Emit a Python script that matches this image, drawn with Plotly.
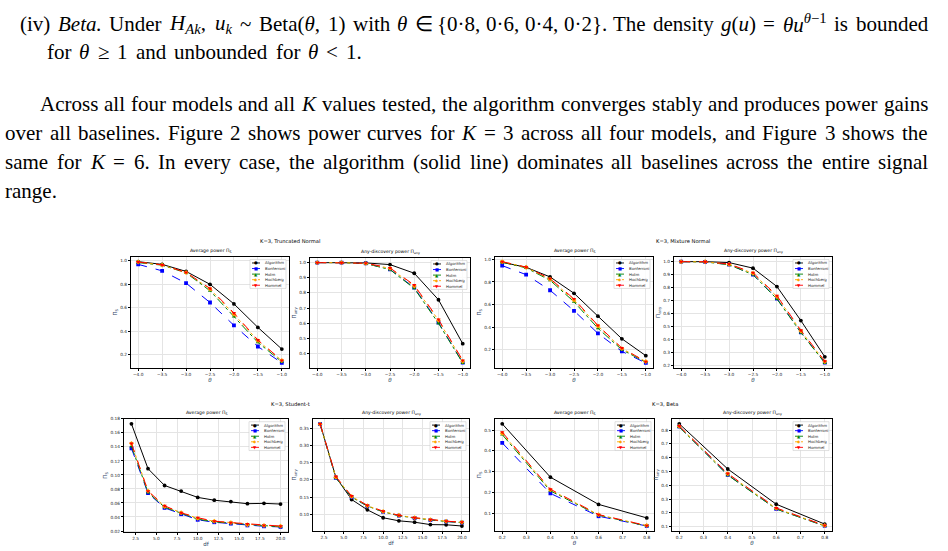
import re
import plotly.graph_objects as go

W, H = 948, 551

# ---------------- data ----------------
methods = ["Algorithm", "Bonferroni", "Holm", "Hochberg", "Hommel"]
colors = ["black", "blue", "green", "orange", "red"]
dashes = ["solid", "dash", "dashdot", "dot", "dash"]
symbols = ["circle", "square", "triangle-up", "diamond", "triangle-down"]
glyphs = ["●", "■", "▲", "◆", "▼"]

mu = [-4.0, -3.5, -3.0, -2.5, -2.0, -1.5, -1.0]
dfs = [2, 4, 6, 8, 10, 12, 14, 16, 18, 20]
theta = [0.2, 0.4, 0.6, 0.8]

# Truncated Normal
tn_avg = [
    [0.993, 0.970, 0.910, 0.800, 0.633, 0.433, 0.248],
    [0.970, 0.915, 0.810, 0.645, 0.450, 0.270, 0.130],
    [0.985, 0.963, 0.898, 0.745, 0.525, 0.305, 0.140],
    [0.990, 0.965, 0.900, 0.760, 0.545, 0.320, 0.150],
    [0.990, 0.966, 0.902, 0.765, 0.555, 0.325, 0.152],
]
tn_any = [
    [1.000, 1.000, 0.998, 0.987, 0.930, 0.755, 0.465],
    [1.000, 1.000, 0.995, 0.955, 0.835, 0.605, 0.340],
    [1.000, 1.000, 0.994, 0.954, 0.830, 0.600, 0.338],
    [1.000, 1.000, 0.995, 0.962, 0.845, 0.620, 0.350],
    [1.000, 1.000, 0.996, 0.965, 0.852, 0.625, 0.355],
]
# Mixture Normal
mn_avg = [
    [0.975, 0.930, 0.845, 0.700, 0.497, 0.297, 0.147],
    [0.945, 0.865, 0.727, 0.545, 0.345, 0.185, 0.083],
    [0.975, 0.925, 0.815, 0.625, 0.390, 0.200, 0.090],
    [0.980, 0.930, 0.825, 0.640, 0.410, 0.210, 0.095],
    [0.980, 0.932, 0.830, 0.650, 0.415, 0.215, 0.095],
]
mn_any = [
    [1.000, 1.000, 0.993, 0.950, 0.808, 0.545, 0.265],
    [1.000, 0.998, 0.978, 0.900, 0.715, 0.455, 0.220],
    [1.000, 0.998, 0.976, 0.900, 0.712, 0.452, 0.218],
    [1.000, 0.999, 0.980, 0.910, 0.730, 0.465, 0.228],
    [1.000, 0.999, 0.982, 0.915, 0.737, 0.470, 0.232],
]
# Student-t
st_avg = [
    [0.173, 0.109, 0.085, 0.077, 0.068, 0.064, 0.062, 0.059, 0.0595, 0.0585],
    [0.138, 0.074, 0.053, 0.044, 0.036, 0.0325, 0.0305, 0.028, 0.0267, 0.0258],
    [0.141, 0.075, 0.054, 0.045, 0.037, 0.033, 0.031, 0.029, 0.027, 0.026],
    [0.145, 0.077, 0.055, 0.046, 0.038, 0.034, 0.032, 0.029, 0.028, 0.027],
    [0.145, 0.077, 0.056, 0.046, 0.039, 0.034, 0.032, 0.030, 0.028, 0.027],
]
st_any = [
    [0.363, 0.208, 0.143, 0.113, 0.090, 0.081, 0.077, 0.070, 0.0695, 0.066],
    [0.362, 0.206, 0.150, 0.124, 0.107, 0.096, 0.089, 0.083, 0.079, 0.076],
    [0.362, 0.206, 0.150, 0.124, 0.107, 0.096, 0.089, 0.083, 0.079, 0.076],
    [0.362, 0.208, 0.152, 0.125, 0.108, 0.097, 0.090, 0.084, 0.080, 0.077],
    [0.363, 0.210, 0.153, 0.126, 0.109, 0.097, 0.090, 0.084, 0.080, 0.077],
]
# Beta
be_avg = [
    [0.530, 0.273, 0.142, 0.077],
    [0.438, 0.195, 0.085, 0.038],
    [0.478, 0.207, 0.090, 0.038],
    [0.485, 0.212, 0.092, 0.040],
    [0.490, 0.215, 0.093, 0.040],
]
be_any = [
    [0.846, 0.518, 0.262, 0.118],
    [0.825, 0.475, 0.228, 0.105],
    [0.823, 0.473, 0.227, 0.104],
    [0.828, 0.483, 0.232, 0.107],
    [0.830, 0.485, 0.235, 0.108],
]

mu_ticks = [-4.0, -3.5, -3.0, -2.5, -2.0, -1.5, -1.0]
df_ticks = [2.5, 5.0, 7.5, 10.0, 12.5, 15.0, 17.5, 20.0]
th_ticks = [0.2, 0.3, 0.4, 0.5, 0.6, 0.7, 0.8]

suptitles = ["K=3, Truncated Normal", "K=3, Mixture Normal", "K=3, Student-t", "K=3, Beta"]
avg_title = "Average power Π<sub>S</sub>"
any_title = "Any-discovery power Π<sub>any</sub>"

paragraph = [
    "(iv) <i>Beta.</i> Under <i>H<sub>Ak</sub></i>, <i>u<sub>k</sub></i> ~ Beta(<i>θ</i>, 1) with <i>θ</i> ∈ {0·8, 0·6, 0·4, 0·2}. The density <i>g</i>(<i>u</i>) = <i>θu</i><sup><i>θ</i>−1</sup> is bounded",
    "for <i>θ</i> ≥ 1 and unbounded for <i>θ</i> &lt; 1.",
    "Across all four models and all <i>K</i> values tested, the algorithm converges stably and produces power gains",
    "over all baselines. Figure 2 shows power curves for <i>K</i> = 3 across all four models, and Figure 3 shows the",
    "same for <i>K</i> = 6. In every case, the algorithm (solid line) dominates all baselines across the entire signal",
    "range.",
]
line_right = [928, 362, 928, 928, 928, None]

# ---------------- layout helpers ----------------
def fx(px):
    return px / W

def fy(py):
    return 1 - py / H

def fmt(v, d):
    return f"{v:.{d}f}".replace("-", "−")

# approximate Times advance widths (per 1000 em) for text layout
TW = {" ": 250, "(": 333, ")": 333, ",": 250, ".": 250, "-": 333, "~": 541, "=": 564, "{": 480, "}": 480,
      "·": 250, "∈": 667, "≥": 549, "−": 564, "θ": 500, "<": 564,
      "A": 722, "B": 667, "F": 556, "H": 722, "I": 333, "K": 722, "T": 611, "U": 722,
      "a": 444, "b": 500, "c": 444, "d": 500, "e": 444, "f": 333, "g": 500, "h": 500, "i": 278,
      "j": 278, "k": 500, "l": 278, "m": 778, "n": 500, "o": 500, "p": 500, "q": 500, "r": 333,
      "s": 389, "t": 278, "u": 500, "v": 500, "w": 722, "x": 500, "y": 500, "z": 444}

def text_width(html, size):
    w = 0.0
    scale = 1.0
    html = html.replace("&lt;", "<")
    for tok in re.split(r"(</?(?:i|sub|sup)>)", html):
        if tok in ("<sub>", "<sup>"):
            scale = 0.7
        elif tok in ("</sub>", "</sup>"):
            scale = 1.0
        elif tok in ("<i>", "</i>"):
            continue
        else:
            for ch in tok:
                w += TW.get(ch, 500) * scale
    return w * size / 1000.0

panels = [
    (mu, tn_avg, (131, 289, 256, 368), avg_title, "<i>θ</i>", "Π<sub>S</sub>", mu_ticks, 1, [0.2, 0.4, 0.6, 0.8, 1.0], 1),
    (mu, tn_any, (310, 470, 257, 368), any_title, "<i>θ</i>", "Π<sub>any</sub>", mu_ticks, 1, [0.4, 0.5, 0.6, 0.7, 0.8, 0.9, 1.0], 1),
    (mu, mn_avg, (495, 653, 256, 368), avg_title, "<i>θ</i>", "Π<sub>S</sub>", mu_ticks, 1, [0.2, 0.4, 0.6, 0.8, 1.0], 1),
    (mu, mn_any, (674, 832, 256, 368), any_title, "<i>θ</i>", "Π<sub>any</sub>", mu_ticks, 1, [0.2, 0.3, 0.4, 0.5, 0.6, 0.7, 0.8, 0.9, 1.0], 1),
    (dfs, st_avg, (124, 288, 419, 533), avg_title, "df", "Π<sub>S</sub>", df_ticks, 1, [0.02, 0.04, 0.06, 0.08, 0.10, 0.12, 0.14, 0.16, 0.18], 2),
    (dfs, st_any, (313, 469, 419, 532), any_title, "df", "Π<sub>any</sub>", df_ticks, 1, [0.05, 0.10, 0.15, 0.20, 0.25, 0.30, 0.35], 2),
    (theta, be_avg, (495, 654, 419, 532), avg_title, "<i>θ</i>", "Π<sub>S</sub>", th_ticks, 1, [0.1, 0.2, 0.3, 0.4, 0.5], 1),
    (theta, be_any, (672, 832, 419, 532), any_title, "<i>θ</i>", "Π<sub>any</sub>", th_ticks, 1, [0.1, 0.2, 0.3, 0.4, 0.5, 0.6, 0.7, 0.8], 1),
]

SANS = "DejaVu Sans"
fig = go.Figure()
shapes = []
annotations = []
layout = {}

for i, (xs, series, box, title, xlab, ylab, xt, xd, yt, yd) in enumerate(panels):
    n = i + 1
    sfx = "" if n == 1 else str(n)
    x0, x1, y0, y1 = box
    xmin, xmax = min(xs), max(xs)
    allv = [v for s in series for v in s]
    ymin, ymax = min(allv), max(allv)
    xpad = 0.05 * (xmax - xmin)
    ypad = 0.05 * (ymax - ymin)
    for k, s in enumerate(series):
        fig.add_trace(go.Scatter(
            x=xs, y=s, mode="lines+markers", name=methods[k], showlegend=False,
            xaxis="x" + sfx, yaxis="y" + sfx,
            line=dict(color=colors[k], width=1.0, dash=dashes[k]),
            marker=dict(symbol=symbols[k], size=3.8, color=colors[k]),
        ))
    common = dict(showline=True, mirror=True, linecolor="black", linewidth=1.3,
                  ticks="outside", ticklen=2, tickwidth=0.6, tickcolor="black",
                  tickfont=dict(size=4.3, family=SANS, color="#222"),
                  showgrid=True, gridcolor="#e4e4e4", gridwidth=0.5, zeroline=False)
    layout["xaxis" + sfx] = dict(
        common, domain=[fx(x0), fx(x1)], anchor="y" + sfx,
        range=[xmin - xpad, xmax + xpad], tickvals=xt, ticktext=[fmt(v, xd) for v in xt],
        title=dict(text=xlab, font=dict(size=5.5, family=SANS), standoff=1),
    )
    layout["yaxis" + sfx] = dict(
        common, domain=[fy(y1), fy(y0)], anchor="x" + sfx,
        range=[ymin - ypad, ymax + ypad], tickvals=yt, ticktext=[fmt(v, yd) for v in yt],
        title=dict(text=ylab, font=dict(size=5.5, family=SANS), standoff=2),
    )
    annotations.append(dict(text=title, x=fx((x0 + x1) / 2), y=fy(y0 - 1), xref="paper", yref="paper",
                            xanchor="center", yanchor="bottom", showarrow=False,
                            font=dict(size=4.6, family=SANS, color="black")))
    # legend box (drawn in the upper-right corner of each panel)
    lw, lh = 36, 29
    lx1 = x1 - 3
    lx0 = lx1 - lw
    ly0 = y0 + 3
    shapes.append(dict(type="rect", xref="paper", yref="paper", layer="above",
                       x0=fx(lx0), x1=fx(lx1), y0=fy(ly0 + lh), y1=fy(ly0),
                       fillcolor="rgba(255,255,255,0.85)", line=dict(color="#cccccc", width=0.6)))
    for k in range(5):
        cy = ly0 + 3.4 + k * 5.6
        shapes.append(dict(type="line", xref="paper", yref="paper", layer="above",
                           x0=fx(lx0 + 2), x1=fx(lx0 + 10), y0=fy(cy), y1=fy(cy),
                           line=dict(color=colors[k], width=0.9, dash=dashes[k])))
        annotations.append(dict(text=glyphs[k], x=fx(lx0 + 6), y=fy(cy), xref="paper", yref="paper",
                                xanchor="center", yanchor="middle", showarrow=False,
                                font=dict(size=4.2, family=SANS, color=colors[k])))
        annotations.append(dict(text=methods[k], x=fx(lx0 + 12.5), y=fy(cy), xref="paper", yref="paper",
                                xanchor="left", yanchor="middle", showarrow=False,
                                font=dict(size=3.9, family=SANS, color="#222")))

# suptitles
sup_pos = [(290, 240), (683, 240), (290, 404), (665, 404)]
for t, (px, py) in zip(suptitles, sup_pos):
    annotations.append(dict(text=t, x=fx(px), y=fy(py), xref="paper", yref="paper",
                            xanchor="center", yanchor="middle", showarrow=False,
                            font=dict(size=5.2, family=SANS, color="black")))

# paragraph text, justified word by word
FS = 21
SERIF = "Liberation Serif"
line_pos = [(20, 22), (47, 50), (40, 103), (5, 132), (5, 161), (5, 190)]

def word_ann(text, x, y):
    return dict(text=text, x=fx(x), y=fy(y), xref="paper", yref="paper",
                xanchor="left", yanchor="middle", showarrow=False,
                borderpad=0, borderwidth=0,
                font=dict(size=FS, family=SERIF, color="black"))

for t, (px, py), right in zip(paragraph, line_pos, line_right):
    if right is None:
        annotations.append(word_ann(t, px, py))
        continue
    words = [w for w in t.split(" ") if w]
    widths = [text_width(w, FS) for w in words]
    gap = (right - px - sum(widths)) / (len(words) - 1)
    xpos = px
    for w, ww in zip(words, widths):
        annotations.append(word_ann(w, xpos, py))
        xpos += ww + gap

fig.update_layout(
    width=W, height=H, margin=dict(l=0, r=0, t=0, b=0),
    paper_bgcolor="white", plot_bgcolor="white",
    showlegend=False, shapes=shapes, annotations=annotations, **layout,
)
fig.write_html("out.html")
